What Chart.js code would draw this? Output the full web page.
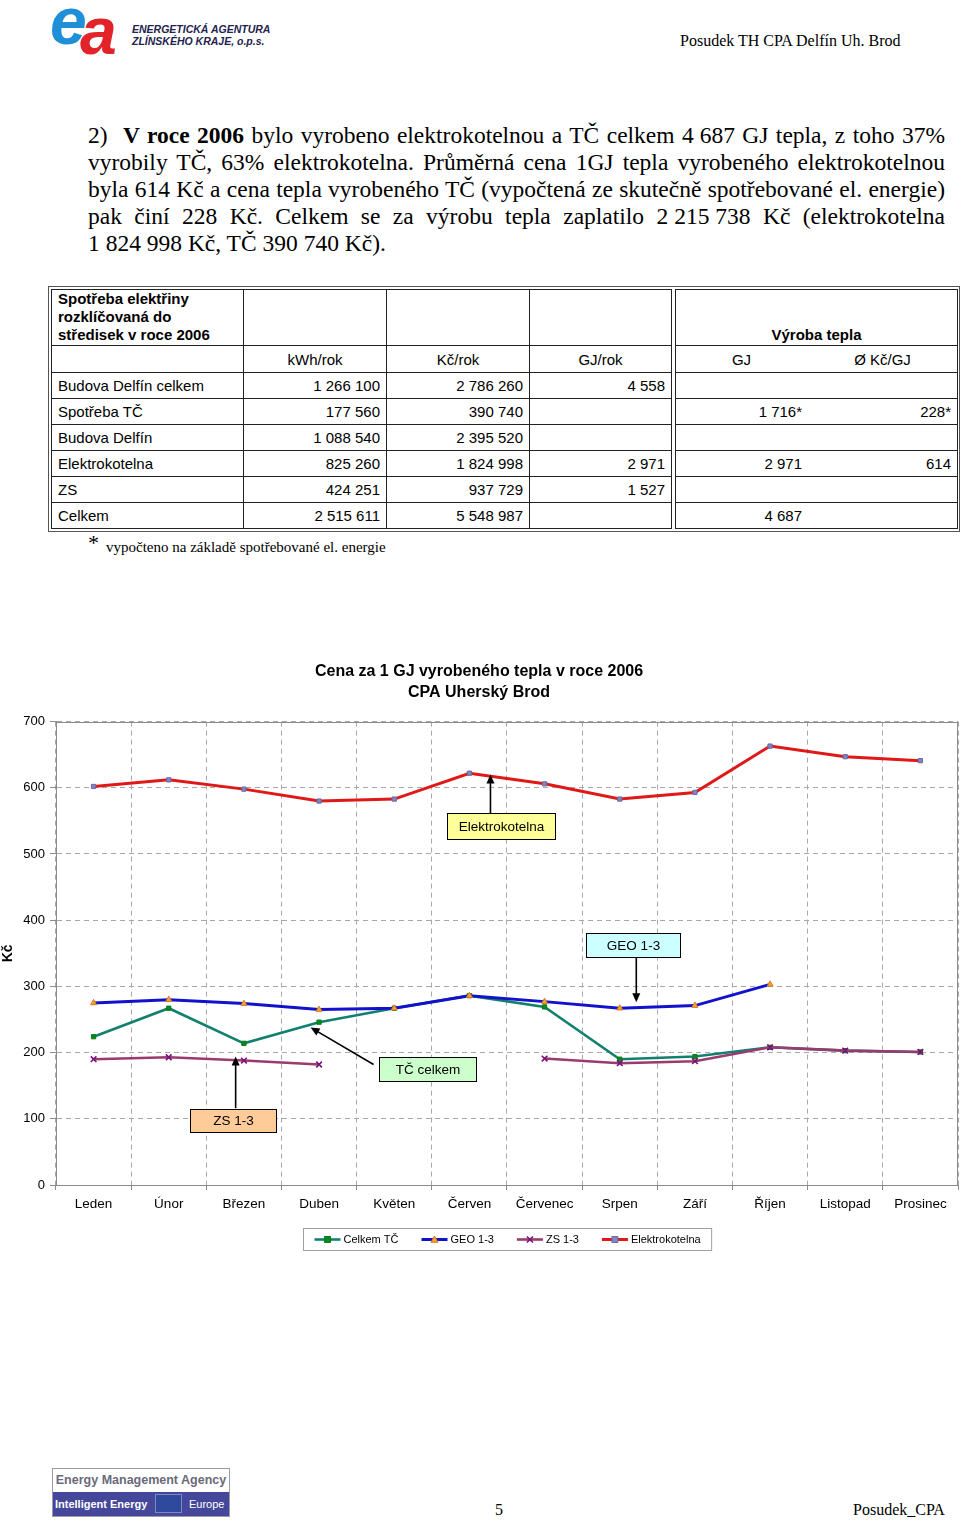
<!DOCTYPE html>
<html lang="cs">
<head>
<meta charset="utf-8">
<script src="https://cdn.jsdelivr.net/npm/chart.js@4/dist/chart.umd.min.js"></script>
<style>
  html, body { margin:0; padding:0; background:#fff; }
  body { width:960px; height:1520px; position:relative; overflow:hidden; font-family:"Liberation Serif", "Times New Roman", serif; color:#000; }
  .abs { position:absolute; }
  .para { left:88px; top:122px; width:857px; font-size:23.5px; line-height:27px; }
  .para > div { white-space:nowrap; height:27px; }
  .para > div > span.w { display:inline-block; white-space:nowrap; }
  .n { display:inline-block; word-spacing:0; }
  #tbl { left:48px; top:286px; width:912px; box-sizing:border-box; border:1px solid #555; padding:2px; }
  #tbl table { border-collapse:collapse; table-layout:fixed; width:906px; font-family:"Liberation Sans", Arial, sans-serif; font-size:15px; }
  #tbl td { border:1px solid #222; padding:0 6px; vertical-align:middle; white-space:nowrap; overflow:hidden; }
  #tbl td.gap { border-top:none; border-bottom:none; padding:0; }
  #tbl td.r { text-align:right; }
  #tbl td.c { text-align:center; }
  #tbl td.v { padding:0; }
  .half { display:inline-block; box-sizing:border-box; }
  .h1 { width:131px; }
  .h2 { width:151px; }
</style>
</head>
<body>

<!-- header logo -->
<div class="abs" style="left:50px;top:-17px;font:italic bold 66px 'Liberation Sans',Arial,sans-serif;color:#1F8FD8;letter-spacing:-4px;">e</div>
<div class="abs" style="left:80px;top:-7px;font:italic bold 66px 'Liberation Sans',Arial,sans-serif;color:#E2232A;">a</div>
<div class="abs" style="left:132px;top:23px;font:italic bold 10.5px/12px 'Liberation Sans',Arial,sans-serif;color:#23234f;">ENERGETICKÁ AGENTURA<br>ZLÍNSKÉHO KRAJE, o.p.s.</div>
<div class="abs" style="left:680px;top:31px;font-size:16px;line-height:20px;">Posudek TH CPA Delfín Uh. Brod</div>

<!-- paragraph -->
<div class="abs para" id="para">
  <div data-j="1"><span class="w"><span class="n" style="width:35px;">2)</span><b>V roce 2006</b> bylo vyrobeno elektrokotelnou a TČ celkem <span class="n">4 687</span> GJ tepla, z toho 37%</span></div>
  <div data-j="1"><span class="w">vyrobily TČ, 63% elektrokotelna. Průměrná cena 1GJ tepla vyrobeného elektrokotelnou</span></div>
  <div data-j="1"><span class="w">byla 614 Kč a cena tepla vyrobeného TČ (vypočtená ze skutečně spotřebované el. energie)</span></div>
  <div data-j="1"><span class="w">pak činí 228 Kč. Celkem se za výrobu tepla zaplatilo <span class="n">2 215 738</span> Kč (elektrokotelna</span></div>
  <div data-j="0"><span class="w"><span class="n">1 824 998</span> Kč, TČ <span class="n">390 740</span> Kč).</span></div>
</div>

<!-- table -->
<div id="tbl" class="abs">
<table>
  <colgroup><col style="width:192px"><col style="width:143px"><col style="width:143px"><col style="width:142px"><col style="width:4px"><col style="width:282px"></colgroup>
  <tr style="height:56px">
    <td style="vertical-align:top;font-weight:bold;line-height:18px;white-space:normal;">Spotřeba elektřiny rozklíčovaná do středisek v roce 2006</td>
    <td></td><td></td><td></td><td class="gap"></td>
    <td class="c" style="vertical-align:bottom;font-weight:bold;line-height:18px;padding-bottom:1px;">Výroba tepla</td>
  </tr>
  <tr style="height:27px">
    <td></td><td class="c">kWh/rok</td><td class="c">Kč/rok</td><td class="c">GJ/rok</td><td class="gap"></td>
    <td class="v"><span class="half h1" style="text-align:center">GJ</span><span class="half h2" style="text-align:center">Ø Kč/GJ</span></td>
  </tr>
  <tr style="height:26px">
    <td>Budova Delfín celkem</td><td class="r">1 266 100</td><td class="r">2 786 260</td><td class="r">4 558</td><td class="gap"></td><td class="v"></td>
  </tr>
  <tr style="height:26px">
    <td>Spotřeba TČ</td><td class="r">177 560</td><td class="r">390 740</td><td class="r"></td><td class="gap"></td>
    <td class="v"><span class="half h1" style="text-align:right;padding-right:5px">1 716*</span><span class="half h2" style="text-align:right;padding-right:7px">228*</span></td>
  </tr>
  <tr style="height:26px">
    <td>Budova Delfín</td><td class="r">1 088 540</td><td class="r">2 395 520</td><td class="r"></td><td class="gap"></td><td class="v"></td>
  </tr>
  <tr style="height:26px">
    <td>Elektrokotelna</td><td class="r">825 260</td><td class="r">1 824 998</td><td class="r">2 971</td><td class="gap"></td>
    <td class="v"><span class="half h1" style="text-align:right;padding-right:5px">2 971</span><span class="half h2" style="text-align:right;padding-right:7px">614</span></td>
  </tr>
  <tr style="height:26px">
    <td>ZS</td><td class="r">424 251</td><td class="r">937 729</td><td class="r">1 527</td><td class="gap"></td><td class="v"></td>
  </tr>
  <tr style="height:26px">
    <td>Celkem</td><td class="r">2 515 611</td><td class="r">5 548 987</td><td class="r"></td><td class="gap"></td>
    <td class="v"><span class="half h1" style="text-align:right;padding-right:5px">4 687</span><span class="half h2"></span></td>
  </tr>
</table>
</div>

<!-- footnote -->
<div class="abs" style="left:88px;top:530px;font-size:22px;line-height:26px;">*</div>
<div class="abs" style="left:106px;top:538px;font-size:15px;line-height:18px;">vypočteno na základě spotřebované el. energie</div>

<!-- chart -->
<div class="abs" style="left:0;top:650px;width:960px;height:620px;">
  <canvas id="c" width="960" height="620"></canvas>
</div>

<!-- footer -->
<div class="abs" style="left:52px;top:1468px;width:178px;height:49px;box-sizing:border-box;border:1px solid #9a9aa8;">
  <div style="height:23px;background:#fff;color:#6a6a78;font:bold 12.5px/23px 'Liberation Sans',Arial,sans-serif;text-align:center;">Energy Management Agency</div>
  <div style="position:relative;height:24px;background:#45489a;color:#fff;font:bold 11px/24px 'Liberation Sans',Arial,sans-serif;">
    <span style="position:absolute;left:2px;top:0;">Intelligent Energy</span>
    <span style="position:absolute;left:102px;top:2px;width:27px;height:19px;box-sizing:border-box;border:1px solid #7f86c8;background:#2f4a9c;"></span>
    <span style="position:absolute;left:136px;top:0;font-weight:normal;">Europe</span>
  </div>
</div>
<div class="abs" style="left:495px;top:1500px;font-size:16px;line-height:20px;">5</div>
<div class="abs" style="left:853px;top:1500px;font-size:16px;line-height:20px;">Posudek_CPA</div>

<script>
// justify paragraph lines exactly to the text width
(function(){
  const W = 857;
  document.querySelectorAll('#para > div').forEach(div => {
    const w = div.querySelector('.w');
    let gaps = 0;
    const walk = node => {
      node.childNodes.forEach(ch => {
        if (ch.nodeType === 3) gaps += (ch.textContent.match(/ /g) || []).length;
        else if (!(ch.classList && ch.classList.contains('n'))) walk(ch);
      });
    };
    walk(w);
    const natural = w.getBoundingClientRect().width;
    if (div.dataset.j === '1' && gaps > 0) {
      w.style.wordSpacing = ((W - natural) / gaps) + 'px';
    }
  });
})();

// ---- data ----
const months = ['Leden','Únor','Březen','Duben','Květen','Červen','Červenec','Srpen','Září','Říjen','Listopad','Prosinec'];
const celkemTC = [224, 267, 214, 246, 267, 286, 269, 190, 194, 208, 203, 201];
const geo13    = [275, 280, 274, 265, 267, 286, 277, 267, 271, 303, null, null];
const zs13     = [190, 193, 188, 182, null, null, 191, 184, 187, 208, 203, 201];
const elektro  = [602, 612, 598, 580, 583, 622, 606, 583, 593, 663, 647, 641];
const yTicks   = [0, 100, 200, 300, 400, 500, 600, 700];
const seriesNames = ['Celkem TČ', 'GEO 1-3', 'ZS 1-3', 'Elektrokotelna'];
const chartTitle = ['Cena za 1 GJ vyrobeného tepla v roce 2006', 'CPA Uherský Brod'];
const yTitle = 'Kč';

// callout labels (anchored in data coordinates: category index, value)
const callouts = [
  { text:'Elektrokotelna', bg:'#FFFF99', cx:5.414, cy:542, w:108, h:26, from:[5.28,561], to:[5.28,620] },
  { text:'GEO 1-3',        bg:'#CCFFFF', cx:7.18,  cy:362, w:94,  h:24, from:[7.22,343], to:[7.22,276] },
  { text:'TČ celkem',      bg:'#CCFFCC', cx:4.44,  cy:175, w:97,  h:24, from:[3.725,182], to:[2.887,238] },
  { text:'ZS 1-3',         bg:'#FFCC99', cx:1.856, cy:98,  w:86,  h:23, from:[1.89,116], to:[1.89,194] }
];

const SANS = "'Liberation Sans', Arial, sans-serif";

const frame = {
  id:'frame',
  beforeDatasetsDraw(chart){
    const {ctx, chartArea:a} = chart;
    ctx.save();
    ctx.strokeStyle = '#8c8c8c';
    ctx.lineWidth = 1;
    ctx.strokeRect(Math.round(a.left)+0.5, Math.round(a.top)+0.5, Math.round(a.right-a.left)-1, Math.round(a.bottom-a.top));
    ctx.restore();
  }
};

function drawMarker(ctx, ds, x, y){
  const r = ds.pointRadius;
  ctx.save();
  ctx.fillStyle = ds.pointBackgroundColor;
  ctx.strokeStyle = ds.pointBorderColor;
  ctx.lineWidth = ds.pointBorderWidth;
  ctx.beginPath();
  if (ds.pointStyle === 'rect') { ctx.rect(x-r, y-r, 2*r, 2*r); ctx.fill(); ctx.stroke(); }
  else if (ds.pointStyle === 'triangle') { ctx.moveTo(x, y-r); ctx.lineTo(x+r, y+r*0.8); ctx.lineTo(x-r, y+r*0.8); ctx.closePath(); ctx.fill(); ctx.stroke(); }
  else if (ds.pointStyle === 'crossRot') { const d=r*0.75; ctx.moveTo(x-d,y-d); ctx.lineTo(x+d,y+d); ctx.moveTo(x+d,y-d); ctx.lineTo(x-d,y+d); ctx.stroke(); }
  ctx.restore();
}

const legendBox = {
  id:'legendBox',
  afterDraw(chart){
    const {ctx, chartArea:a} = chart;
    ctx.save();
    ctx.font = '11px ' + SANS;
    const lineLen = 26, gapTxt = 3, gapItem = 23, padX = 11;
    const items = chart.data.datasets.map(ds => ({ds, w: ctx.measureText(ds.label).width}));
    let total = 0;
    items.forEach((it,i) => { total += lineLen + gapTxt + it.w + (i < items.length-1 ? gapItem : 0); });
    const boxW = total + 2*padX, boxH = 22;
    const cx = (a.left + a.right)/2;
    const bx = Math.round(cx - boxW/2) + 0.5, by = Math.round(a.bottom + 43) + 0.5;
    ctx.fillStyle = '#fff';
    ctx.fillRect(bx, by, boxW, boxH);
    ctx.strokeStyle = '#a0a0a0';
    ctx.lineWidth = 1;
    ctx.strokeRect(bx, by, boxW, boxH);
    let x = bx + padX;
    const y = by + boxH/2;
    items.forEach(it => {
      ctx.strokeStyle = it.ds.borderColor;
      ctx.lineWidth = it.ds.borderWidth;
      ctx.beginPath(); ctx.moveTo(x, y); ctx.lineTo(x+lineLen, y); ctx.stroke();
      drawMarker(ctx, it.ds, x + lineLen/2, y);
      ctx.fillStyle = '#000';
      ctx.textBaseline = 'middle';
      ctx.textAlign = 'left';
      ctx.fillText(it.ds.label, x + lineLen + gapTxt, y + 0.5);
      x += lineLen + gapTxt + it.w + gapItem;
    });
    ctx.restore();
  }
};

const calloutPlugin = {
  id:'callouts',
  afterDatasetsDraw(chart){
    const {ctx} = chart;
    const xs = chart.scales.x, ys = chart.scales.y;
    const px = i => xs.getPixelForValue(i), py = v => ys.getPixelForValue(v);
    ctx.save();
    callouts.forEach(c => {
      const x1 = px(c.from[0]), y1 = py(c.from[1]), x2 = px(c.to[0]), y2 = py(c.to[1]);
      const ang = Math.atan2(y2-y1, x2-x1), L = 9, W = 4;
      ctx.strokeStyle = '#000'; ctx.fillStyle = '#000'; ctx.lineWidth = 1.6;
      ctx.beginPath(); ctx.moveTo(x1, y1); ctx.lineTo(x2 - Math.cos(ang)*L*0.8, y2 - Math.sin(ang)*L*0.8); ctx.stroke();
      ctx.beginPath();
      ctx.moveTo(x2, y2);
      ctx.lineTo(x2 - Math.cos(ang)*L - Math.sin(ang)*W, y2 - Math.sin(ang)*L + Math.cos(ang)*W);
      ctx.lineTo(x2 - Math.cos(ang)*L + Math.sin(ang)*W, y2 - Math.sin(ang)*L - Math.cos(ang)*W);
      ctx.closePath(); ctx.fill();
      const bx = Math.round(px(c.cx) - c.w/2) + 0.5, by = Math.round(py(c.cy) - c.h/2) + 0.5;
      ctx.fillStyle = c.bg; ctx.fillRect(bx, by, c.w, c.h);
      ctx.strokeStyle = '#000'; ctx.lineWidth = 1; ctx.strokeRect(bx, by, c.w, c.h);
      ctx.fillStyle = '#000'; ctx.font = '13.5px ' + SANS; ctx.textAlign = 'center'; ctx.textBaseline = 'middle';
      ctx.fillText(c.text, bx + c.w/2, by + c.h/2 + 0.5);
    });
    ctx.restore();
  }
};

new Chart(document.getElementById('c'), {
  type:'line',
  data:{
    labels: months,
    datasets:[
      { label:seriesNames[0], data:celkemTC, borderColor:'#12806f', borderWidth:2.6, pointStyle:'rect', pointRadius:3,
        pointBackgroundColor:'#0a8a1e', pointBorderColor:'#0a7a1a', pointBorderWidth:1, order:4 },
      { label:seriesNames[1], data:geo13, borderColor:'#1212cc', borderWidth:3, pointStyle:'triangle', pointRadius:3.5,
        pointBackgroundColor:'#ffa033', pointBorderColor:'#d07a20', pointBorderWidth:1, order:3 },
      { label:seriesNames[2], data:zs13, borderColor:'#9a3a6e', borderWidth:2.6, pointStyle:'crossRot', pointRadius:4,
        pointBackgroundColor:'#800080', pointBorderColor:'#7a107a', pointBorderWidth:1.6, order:2 },
      { label:seriesNames[3], data:elektro, borderColor:'#e01818', borderWidth:3, pointStyle:'rect', pointRadius:3,
        pointBackgroundColor:'#8484c4', pointBorderColor:'#6a6aa0', pointBorderWidth:1, order:1 }
    ]
  },
  options:{
    responsive:false,
    animation:false,
    spanGaps:false,
    elements:{ line:{ tension:0 } },
    layout:{ autoPadding:false, padding:{ left:0, right:2, top:0, bottom:45 } },
    plugins:{
      legend:{ display:false },
      tooltip:{ enabled:false },
      title:{ display:true, text:chartTitle, color:'#000', font:{ family:SANS, size:16, weight:'bold', lineHeight:1.3 }, padding:{ top:11, bottom:19 } }
    },
    scales:{
      x:{
        type:'category',
        offset:true,
        grid:{ offset:true, color:'#a8a8a8', lineWidth:1, drawTicks:true, tickLength:5, tickColor:'#8c8c8c' },
        border:{ display:true, color:'#8c8c8c', width:1, dash:[5,4] },
        ticks:{ color:'#000', font:{ family:SANS, size:13.5 }, padding:6, maxRotation:0, autoSkip:false },
        afterFit(s){ s.height = 40; s.paddingLeft = 0; s.paddingRight = 0; }
      },
      y:{
        min:0, max:700,
        afterBuildTicks(s){ s.ticks = yTicks.map(v => ({ value:v })); },
        grid:{ color:'#a8a8a8', lineWidth:1, drawTicks:true, tickLength:6, tickColor:'#8c8c8c' },
        border:{ display:true, color:'#8c8c8c', width:1, dash:[5,4] },
        ticks:{ color:'#000', font:{ family:SANS, size:13 }, padding:5 },
        title:{ display:true, text:yTitle, color:'#000', font:{ family:SANS, size:14, weight:'bold' }, padding:0 },
        afterFit(s){ s.width = 56; s.paddingTop = 0; s.paddingBottom = 0; }
      }
    }
  },
  plugins:[frame, calloutPlugin, legendBox]
});
</script>
</body>
</html>
